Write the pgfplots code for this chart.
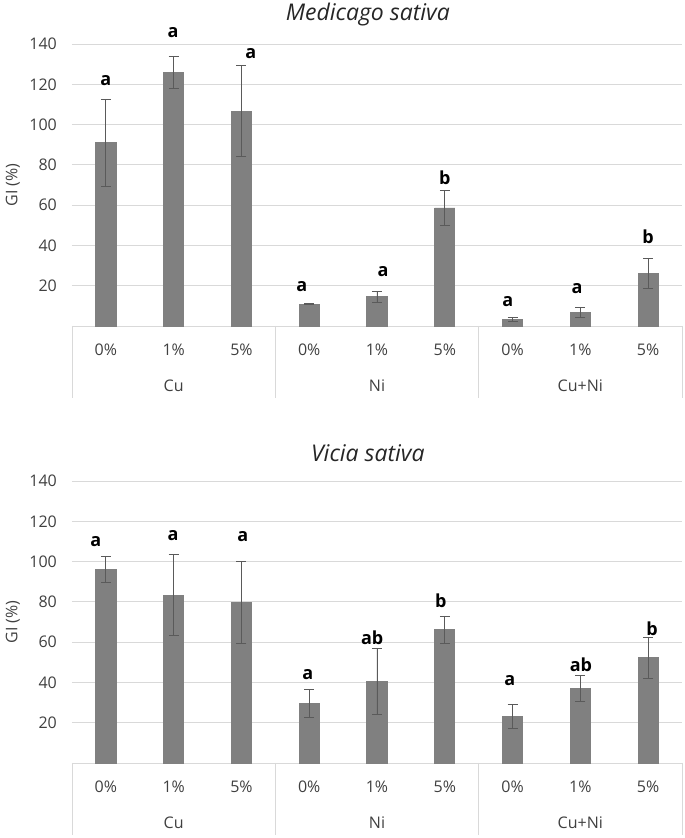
\documentclass[border=0pt]{standalone}
\usepackage{pgfplots}
\pgfplotsset{compat=1.18}
\usepackage{pgfplotstable}
\usepackage{fontspec}
\setmainfont{Open Sans}
\definecolor{barc}{HTML}{808080}
\definecolor{gridc}{HTML}{D9D9D9}
\definecolor{errc}{HTML}{5A5A5A}
\definecolor{txtc}{HTML}{404040}

\pgfplotstableread{
x y e
0 91 21.5
1 126 8
2 106.7 22.7
3 10.8 0.3
4 14.5 2.7
5 58.6 8.6
6 3.3 1
7 6.8 2.5
8 26.1 7.4
}\medicago

\pgfplotstableread{
x y e
0 96.3 6.4
1 83.4 20
2 79.6 20.3
3 29.4 7
4 40.5 16.6
5 66.3 6.7
6 23.2 6
7 37.2 6.4
8 52.3 10.2
}\vicia

\tikzset{
  lt/.style={font=\fontsize{18}{21}\selectfont\bfseries, text=black, anchor=center, inner sep=0pt},
  grp/.style={font=\fontsize{16}{19}\selectfont, text=txtc, anchor=center},
  sep/.style={gridc, line width=0.9pt},
}

\pgfplotsset{
  gi/.style={
    scale only axis, width=610pt, height=282pt, anchor=south west,
    xmin=-0.5, xmax=8.5, ymin=0, ymax=140,
    clip=false,
    axis line style={draw=none},
    major tick length=0pt,
    ytick={20,40,60,80,100,120,140},
    extra y ticks={0}, extra y tick labels={}, extra y tick style={grid=major},
    ymajorgrids,
    grid style={gridc, line width=0.9pt},
    xtick={0,...,8},
    xticklabels={0\%,1\%,5\%,0\%,1\%,5\%,0\%,1\%,5\%},
    tick label style={font=\fontsize{16}{19}\selectfont, text=txtc},
    xticklabel style={anchor=center, yshift=-24pt},
    yticklabel style={anchor=east, inner sep=0pt, xshift=-15pt},
    /pgf/number format/assume math mode=true,
    ylabel={GI (\%)},
    every axis y label/.style={at={(axis description cs:-0.097,0.5)}, rotate=90, anchor=center,
      font=\fontsize{16}{19}\selectfont, text=txtc},
    every axis title/.style={anchor=center, font=\fontsize{23}{27}\selectfont\itshape, text=black!85},
  },
  bars/.style={ybar, bar width=20.2pt, fill=barc, draw=barc, line width=0.8pt,
    error bars/.cd, y dir=both, y explicit,
    error bar style={color=errc, line width=0.8pt},
    error mark=-,
    error mark options={rotate=90, color=errc, line width=0.8pt, mark size=5pt}},
}

\begin{document}
\begin{tikzpicture}
\path[use as bounding box] (0,0) rectangle (685pt,838pt);

% ---------- Medicago sativa ----------
\begin{axis}[gi, at={(72pt,512pt)},
  title={Medicago sativa},
  title style={at={(axis description cs:0.485,1.106)}}]
\addplot[bars] table[x=x, y=y, y error=e]{\medicago};
\node[lt] at (axis cs:0,121.6) {a};
\node[lt] at (axis cs:0.99,145.9) {a};
\node[lt] at (axis cs:2.14,135) {a};
\node[lt] at (axis cs:2.89,19.4) {a};
\node[lt] at (axis cs:4.09,26.8) {a};
\node[lt] at (axis cs:5.0,73.4) {b};
\node[lt] at (axis cs:5.93,11.9) {a};
\node[lt] at (axis cs:6.95,18.4) {a};
\node[lt] at (axis cs:8.0,44.2) {b};
\node[grp, yshift=-60pt] at (axis cs:1,0) {Cu};
\node[grp, yshift=-60pt] at (axis cs:4,0) {Ni};
\node[grp, yshift=-60pt] at (axis cs:7,0) {Cu+Ni};
\draw[sep] (axis cs:-0.5,0) -- ([yshift=-72pt]axis cs:-0.5,0);
\draw[sep] (axis cs:2.5,0) -- ([yshift=-72pt]axis cs:2.5,0);
\draw[sep] (axis cs:5.5,0) -- ([yshift=-72pt]axis cs:5.5,0);
\draw[sep] (axis cs:8.5,0) -- ([yshift=-72pt]axis cs:8.5,0);
\end{axis}

% ---------- Vicia sativa ----------
\begin{axis}[gi, at={(72pt,75pt)},
  title={Vicia sativa},
  title style={at={(axis description cs:0.485,1.099)}}]
\addplot[bars] table[x=x, y=y, y error=e]{\vicia};
\node[lt] at (axis cs:-0.15,109.7) {a};
\node[lt] at (axis cs:0.99,112.7) {a};
\node[lt] at (axis cs:2.02,112.2) {a};
\node[lt] at (axis cs:2.98,43.7) {a};
\node[lt] at (axis cs:3.93,62.0) {ab};
\node[lt] at (axis cs:4.94,80.4) {b};
\node[lt] at (axis cs:5.96,40.7) {a};
\node[lt] at (axis cs:7.01,48.8) {ab};
\node[lt] at (axis cs:8.06,66.5) {b};
\node[grp, yshift=-60pt] at (axis cs:1,0) {Cu};
\node[grp, yshift=-60pt] at (axis cs:4,0) {Ni};
\node[grp, yshift=-60pt] at (axis cs:7,0) {Cu+Ni};
\draw[sep] (axis cs:-0.5,0) -- ([yshift=-72pt]axis cs:-0.5,0);
\draw[sep] (axis cs:2.5,0) -- ([yshift=-72pt]axis cs:2.5,0);
\draw[sep] (axis cs:5.5,0) -- ([yshift=-72pt]axis cs:5.5,0);
\draw[sep] (axis cs:8.5,0) -- ([yshift=-72pt]axis cs:8.5,0);
\end{axis}
\end{tikzpicture}
\end{document}
